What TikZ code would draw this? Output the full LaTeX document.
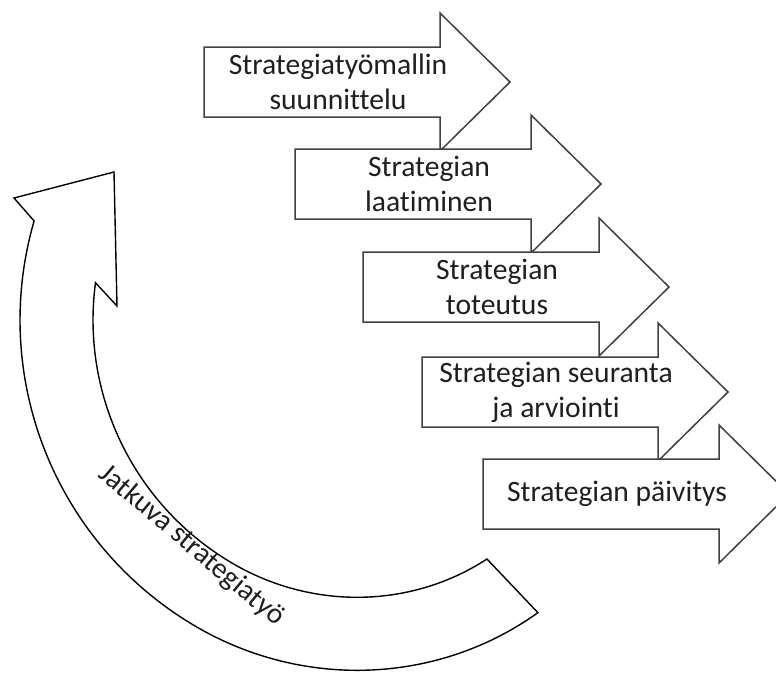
\documentclass[tikz,border=0pt]{standalone}
\usepackage{fontspec}
\setmainfont{Carlito}[Ligatures={NoCommon}]

% font sizes used in the figure
\newcommand{\stepfont}{\fontsize{29.6}{35}\selectfont}
\newcommand{\loopfont}{\fontsize{29}{34}\selectfont}

% one block arrow of the stair: #1 = left edge x, #2 = centre line y
\newcommand{\drawstep}[2]{%
  \draw[stepshape] (#1,#2-35) -- ++(236,0) -- ++(0,-34) -- ++(70,69)
    -- ++(-70,69) -- ++(0,-34) -- ++(-236,0) -- cycle;}

\tikzset{
  stepshape/.style={draw=black!75, fill=white, line width=1.5pt, line join=miter},
  steptext/.style={font=\stepfont, text=black!88, align=center, inner sep=0pt},
  loopshape/.style={draw=black, fill=white, line width=1.4pt, line join=miter},
  looptext/.style={font=\loopfont, text=black!88, inner sep=0pt},
}

\begin{document}
\begin{tikzpicture}[x=1pt, y=-1pt,
    % radii of the two edges of the curved band, narrowing towards the tail
    declare function={rout(\t)=355-20*(max(0,120-\t)/59)^2;
                      rin(\t)=282-18*(max(0,120-\t)/55)^2;}]
  \useasboundingbox (0,0) rectangle (776,672);
  \fill[white] (0,0) rectangle (776,672);
  \clip (0,0) rectangle (776,672);

  % curved return arrow: outer edge, tail, inner edge, head
  \draw[loopshape]
    plot[domain=196.2:60.9, samples=120, variable=\t]
      ({375+rout(\t)*cos(\t)}, {320+rout(\t)*sin(\t)})
    -- plot[domain=64.9:187.6, samples=120, variable=\t]
      ({375+rin(\t)*cos(\t)}, {320+rin(\t)*sin(\t)})
    -- (117,306) -- (114,172) -- (14,198) -- cycle;

  % label lying along the curved arrow
  \node[looptext, anchor=base, rotate=-40] (loop) at (186.5,551.5)
    {Jatkuva strategiatyö};

  % the five process steps
  \drawstep{204}{82}
  \node[steptext] (s1) at (338,82) {Strategiatyömallin\\suunnittelu};
  \drawstep{295}{184}
  \node[steptext] (s2) at (429,184) {Strategian\\laatiminen};
  \drawstep{363}{287}
  \node[steptext] (s3) at (497,287) {Strategian\\toteutus};
  \drawstep{422}{392}
  \node[steptext] (s4) at (556,392) {Strategian seuranta\\ja arviointi};
  \drawstep{483}{494}
  \node[steptext] (s5) at (617,494) {Strategian päivitys};
\end{tikzpicture}
\end{document}
